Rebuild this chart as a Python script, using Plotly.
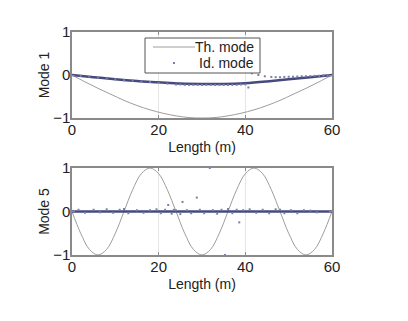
import plotly.graph_objects as go

# Theoretical mode 1 (read every 3 m)
th1_x = [0, 3, 6, 9, 12, 15, 18, 21, 24, 27, 30, 33, 36, 39, 42, 45, 48, 51, 54, 57, 60]
th1_y = [0, -0.16, -0.31, -0.45, -0.59, -0.71, -0.81, -0.89, -0.95, -0.99, -1.0,
         -0.99, -0.95, -0.89, -0.81, -0.71, -0.59, -0.45, -0.31, -0.16, 0]

# Identified mode 1 (dense trend)
id1_line_x = [0, 5, 10, 15, 20, 25, 30, 35, 40, 45, 50, 55, 60]
id1_line_y = [0, -0.05, -0.1, -0.14, -0.17, -0.2, -0.21, -0.21, -0.19, -0.15, -0.1, -0.05, 0]

# Identified mode 1 (individual points)
id1_pts_x = [2, 4, 6, 8, 10, 12, 14, 16, 18, 20, 22, 24, 25, 26, 27, 28, 29, 30, 31, 32,
             33, 34, 35, 36, 37, 38, 39, 40, 40.7, 41.5, 43, 44.5, 46, 47, 48, 49, 50, 51,
             52, 53, 54, 55, 56, 57, 58, 59]
id1_pts_y = [-0.02, -0.04, -0.06, -0.08, -0.1, -0.12, -0.13, -0.15, -0.16, -0.18, -0.2,
             -0.22, -0.22, -0.23, -0.23, -0.23, -0.23, -0.23, -0.23, -0.23, -0.23, -0.23,
             -0.23, -0.23, -0.23, -0.23, -0.22, -0.22, -0.29, 0.04, 0.0, -0.03, -0.045,
             -0.05, -0.05, -0.045, -0.04, -0.04, -0.035, -0.03, -0.03, -0.025, -0.02,
             -0.015, -0.01, -0.005]

# Theoretical mode 5 (read every 2 m)
th5_x = list(range(0, 61, 2))
th5_y = [0, -0.5, -0.87, -1, -0.87, -0.5, 0, 0.5, 0.87, 1, 0.87, 0.5, 0, -0.5, -0.87, -1,
         -0.87, -0.5, 0, 0.5, 0.87, 1, 0.87, 0.5, 0, -0.5, -0.87, -1, -0.87, -0.5, 0]

# Identified mode 5 (trend)
id5_line_x = [0, 60]
id5_line_y = [0, 0]

# Identified mode 5 (individual points)
id5_pts_x = [1.5, 3, 5, 6.5, 8, 9.5, 11, 12, 13, 15, 16.5, 18, 19.5, 20.5, 21.5, 22.2, 23,
             23.5, 24, 25, 25.5, 26.5, 27.5, 28.8, 29.5, 30.5, 31.8, 32.5, 33.5, 34.5, 35.3,
             36, 37, 38, 38.6, 39.5, 41, 42.5, 44, 45.5, 47, 48, 49, 50.5, 52, 53.5, 55, 56.5]
id5_pts_y = [0.04, -0.03, 0.04, -0.02, 0.05, -0.03, 0.04, 0.06, -0.04, 0.03, -0.03, 0.03,
             0.05, -0.04, 0.04, 0.15, -0.05, 0.04, 0.03, -0.06, 0.22, 0.03, -0.04, 0.32,
             0.04, -0.04, 1.0, 0.03, -0.05, 0.04, -1.0, 0.06, -0.04, 0.04, -0.25, 0.03,
             0.05, -0.03, 0.04, -0.04, 0.05, 0.04, -0.04, 0.03, -0.04, 0.03, 0.02, -0.02]

legend_labels = ["Th. mode", "Id. mode"]

th_color = "#a09c9c"
id_line_color = "#45497c"
id_pt_color = "#7a7eaa"
frame_color = "#8a8a8a"
text_color = "#222"
font = "Liberation Sans, Arial, sans-serif"

W, H = 408, 321
def px(x):
    return x / W
def py(y):
    return 1 - y / H

fig = go.Figure()

fig.add_trace(go.Scatter(x=th1_x, y=th1_y, mode="lines", line=dict(color=th_color, width=1, shape="spline"),
                         name=legend_labels[0], xaxis="x", yaxis="y"))
fig.add_trace(go.Scatter(x=id1_line_x, y=id1_line_y, mode="lines", line=dict(color=id_line_color, width=2.5, shape="spline"),
                         showlegend=False, xaxis="x", yaxis="y"))
fig.add_trace(go.Scatter(x=id1_pts_x, y=id1_pts_y, mode="markers",
                         marker=dict(color=id_pt_color, size=2, symbol="square"),
                         name=legend_labels[1], xaxis="x", yaxis="y"))

fig.add_trace(go.Scatter(x=th5_x, y=th5_y, mode="lines", line=dict(color=th_color, width=1, shape="spline"),
                         showlegend=False, xaxis="x2", yaxis="y2"))
fig.add_trace(go.Scatter(x=id5_line_x, y=id5_line_y, mode="lines", line=dict(color=id_line_color, width=2.5),
                         showlegend=False, xaxis="x2", yaxis="y2"))
fig.add_trace(go.Scatter(x=id5_pts_x, y=id5_pts_y, mode="markers",
                         marker=dict(color=id_pt_color, size=2, symbol="square"),
                         showlegend=False, xaxis="x2", yaxis="y2"))

xax = dict(range=[0, 60], tickvals=[0, 20, 40, 60], showgrid=True, gridcolor="#e6e6e6", gridwidth=1,
           zeroline=False, showline=True, linecolor=frame_color, linewidth=1.5, mirror="ticks",
           ticks="inside", ticklen=3, tickcolor=frame_color, tickfont=dict(size=15, color=text_color),
           automargin=False, ticklabelstandoff=-3,
           title=dict(text="Length (m)", font=dict(size=14, color=text_color), standoff=5))
yax = dict(range=[-1, 1], tickvals=[-1, 0, 1], showgrid=False, zeroline=False, showline=True,
           linecolor=frame_color, linewidth=1.5, mirror="ticks", ticks="inside", ticklen=3,
           tickcolor=frame_color, tickfont=dict(size=15, color=text_color), automargin=False,
           ticklabelstandoff=-3)

# manual legend (box, line sample, dot sample, labels)
shapes = [
    dict(type="rect", xref="paper", yref="paper", x0=px(137), x1=px(252), y0=py(65), y1=py(30),
         line=dict(color="#555", width=1), fillcolor="white", layer="above"),
    dict(type="line", xref="paper", yref="paper", x0=px(145), x1=px(187), y0=py(39), y1=py(39),
         line=dict(color=th_color, width=1), layer="above"),
    dict(type="rect", xref="paper", yref="paper", x0=px(165), x1=px(167), y0=py(56), y1=py(54),
         line=dict(width=0), fillcolor=id_pt_color, layer="above"),
]
annotations = [
    dict(text=legend_labels[0], xref="paper", yref="paper", x=px(248), y=py(39), xanchor="right",
         yanchor="middle", showarrow=False, font=dict(size=14, color=text_color)),
    dict(text=legend_labels[1], xref="paper", yref="paper", x=px(248), y=py(55), xanchor="right",
         yanchor="middle", showarrow=False, font=dict(size=14, color=text_color)),
]

fig.update_layout(
    width=W, height=H,
    margin=dict(l=0, r=0, t=0, b=0),
    paper_bgcolor="white", plot_bgcolor="white",
    font=dict(family=font, color=text_color),
    xaxis=dict(xax, domain=[px(64), px(324)], anchor="y"),
    yaxis=dict(yax, domain=[py(110), py(24)], anchor="x",
               title=dict(text="Mode 1", font=dict(size=14, color=text_color), standoff=0)),
    xaxis2=dict(xax, domain=[px(64), px(324)], anchor="y2"),
    yaxis2=dict(yax, domain=[py(247), py(160)], anchor="x2",
                title=dict(text="Mode 5", font=dict(size=14, color=text_color), standoff=0)),
    shapes=shapes,
    annotations=annotations,
    showlegend=False,
)

fig.write_html("out.html")
